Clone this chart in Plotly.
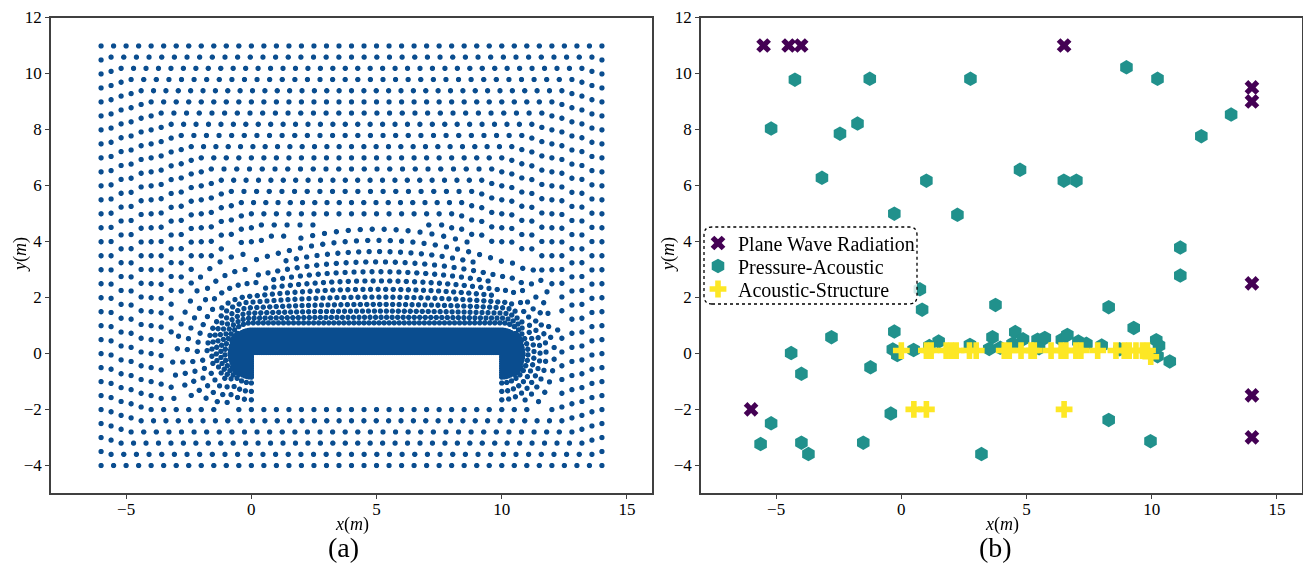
import numpy as np
import plotly.graph_objects as go

# ---------------- Panel (a): mesh description ----------------
DOMAIN_X = [-6.0, 14.0]          # outer boundary of the acoustic domain
DOMAIN_Y = [-4.0, 11.0]
OBST_X = [0.0, 10.0]             # structure (empty rectangle)
OBST_Y = [-2.0, 0.0]
RING_OFFSETS = [0.0, 0.4, 0.8, 1.2, 1.6, 2.0, 2.4, 2.8, 3.2, 3.6, 4.0, 4.4,
                4.8, 5.2, 5.6, 6.0, 6.4, 6.8, 7.2]
RING_SPACING = 0.5
# very fine layers hugging the top of the structure
DENSE_R = [0.04, 0.12, 0.20, 0.28, 0.36, 0.44, 0.52, 0.60, 0.68, 0.76, 0.84, 0.90]
DENSE_H = 0.09
# graded layers further out (top / left / right / bottom reach, node spacing, bow)
LAYER_T = [1.10, 1.30, 1.52, 1.76, 2.02, 2.30, 2.60, 2.93, 3.28, 3.65, 4.05, 4.45]
LAYER_L = [1.05, 1.22, 1.40, 1.58, 1.77, 1.96, 2.16, 2.36, 2.56, 2.76, 2.96, 3.16]
LAYER_R = [1.05, 1.17, 1.29, 1.41, 1.53, 1.65, 1.77, 1.89, 2.00, 2.10, 2.20, 2.30]
LAYER_B = [1.05, 1.20, 1.35, 1.50, 1.65, 1.80, 1.95, 2.10, 2.25, 2.40, 2.55, 2.70]
LAYER_H = [0.20, 0.22, 0.24, 0.26, 0.28, 0.30, 0.33, 0.36, 0.39, 0.42, 0.45, 0.48]
LAYER_BOW = [0.0, 0.03, 0.07, 0.12, 0.18, 0.25, 0.33, 0.42, 0.52, 0.63, 0.75, 0.88]
LAYER_CLIP_Y = -1.8

# ---------------- Panel (b): classified nodes ----------------
pw_x = [-5.5, -4.5, -4.0, 6.5, 14.0, 14.0, 14.0, 14.0, 14.0, -6.0]
pw_y = [11.0, 11.0, 11.0, 11.0, 9.5, 9.0, 2.5, -1.5, -3.0, -2.0]

pa_x = [-4.25, -1.26, 2.76, 8.99, 10.23, -5.2, -2.45, -1.75, 13.17, 11.98,
        -3.17, 1.0, 4.74, 6.49, 6.99, -0.28, 2.24, 11.14, 11.14,
        0.74, 0.83, 3.76, 8.28, 9.28, -2.79, -0.28, -4.4, -3.99, -1.23, 10.72,
        -0.42, 8.28, -5.2, -5.62, -3.99, -3.71, -1.52, 3.2, 9.95,
        -0.34, -0.16, 0.49, 1.12, 1.49, 2.74, 3.64, 3.51, 3.95, 4.55, 4.86, 4.44,
        5.44, 5.73, 5.5, 6.41, 6.63, 7.07, 7.39, 8.0, 8.72, 10.18, 10.29, 10.23]
pa_y = [9.78, 9.81, 9.81, 10.22, 9.81, 8.03, 7.85, 8.21, 8.53, 7.76,
        6.27, 6.17, 6.56, 6.17, 6.17, 4.99, 4.95, 3.78, 2.78,
        2.29, 1.56, 1.73, 1.65, 0.91, 0.58, 0.78, 0.01, -0.73, -0.5, -0.29,
        -2.15, -2.38, -2.5, -3.24, -3.19, -3.6, -3.19, -3.6, -3.14,
        0.14, -0.06, 0.12, 0.26, 0.42, 0.30, 0.58, 0.16, 0.20, 0.76, 0.50, 0.34,
        0.49, 0.55, 0.18, 0.49, 0.66, 0.42, 0.34, 0.28, 0.15, 0.47, 0.28, -0.10]

as_x = [0.0, 1.0, 1.19, 1.79, 1.99, 2.19, 2.72, 2.99, 4.11, 4.31, 4.78, 5.18, 5.31,
        5.98, 6.38, 6.57, 6.97, 7.17, 7.84, 8.57, 8.9, 9.1, 9.37, 9.63, 9.83, 9.96,
        0.5, 1.0, 6.5]
as_y = [0.1, 0.1, 0.1, 0.1, 0.1, 0.1, 0.1, 0.1, 0.1, 0.1, 0.1, 0.1, 0.1,
        0.1, 0.1, 0.1, 0.1, 0.1, 0.1, 0.1, 0.1, 0.1, 0.1, 0.1, 0.1, -0.12,
        -2.0, -2.0, -2.0]

X_TICKS = [-5, 0, 5, 10, 15]
Y_TICKS = [-4, -2, 0, 2, 4, 6, 8, 10, 12]

# ---------------- build mesh node cloud for panel (a) ----------------
def resample(path, h):
    seg = np.hypot(np.diff(path[:, 0]), np.diff(path[:, 1]))
    s = np.concatenate([[0], np.cumsum(seg)])
    n = max(int(round(s[-1] / h)), 1)
    t = np.linspace(0, s[-1], n + 1)
    return np.column_stack([np.interp(t, s, path[:, 0]), np.interp(t, s, path[:, 1])])

def layer_path(T, L, R, B, bow):
    x0, x1 = OBST_X
    t = np.linspace(0, np.pi / 2, 200)
    tend = T - bow
    xs = np.linspace(x0, x1, 400)
    mid = 0.5 * (x0 + x1)
    parts = [
        np.column_stack([x0 - L * np.sin(t), -B * np.cos(t)]),
        np.column_stack([x0 - L * np.cos(t), tend * np.sin(t)]),
        np.column_stack([xs, T - bow * ((xs - mid) / (mid - x0)) ** 2]),
        np.column_stack([x1 + R * np.sin(t), tend * np.cos(t)]),
        np.column_stack([x1 + R * np.cos(t), -B * np.sin(t)]),
    ]
    return np.vstack(parts)

def inside_obstacle(p):
    return (p[:, 0] > OBST_X[0] + 0.02) & (p[:, 0] < OBST_X[1] - 0.02) & \
           (p[:, 1] > OBST_Y[0] + 0.02) & (p[:, 1] < OBST_Y[1] - 0.02)

cands = []  # (points, min distance)
for r in DENSE_R:
    p = resample(layer_path(r, r, r, r, 0.0), DENSE_H)
    p = p[(p[:, 1] > LAYER_CLIP_Y) & ~inside_obstacle(p)]
    cands.append((p, 0.75 * DENSE_H))
for T, L, R, B, h, bw in zip(LAYER_T, LAYER_L, LAYER_R, LAYER_B, LAYER_H, LAYER_BOW):
    p = resample(layer_path(T, L, R, B, bw), h)
    p = p[(p[:, 1] > LAYER_CLIP_Y) & ~inside_obstacle(p)]
    cands.append((p, 0.72 * h))
for d in RING_OFFSETS:
    xa, xb = DOMAIN_X[0] + d, DOMAIN_X[1] - d
    ya, yb = DOMAIN_Y[0] + d, DOMAIN_Y[1] - d
    corners = [(xa, ya), (xb, ya), (xb, yb), (xa, yb), (xa, ya)]
    pts = []
    for (ax, ay), (bx, by) in zip(corners[:-1], corners[1:]):
        ln = np.hypot(bx - ax, by - ay)
        n = max(int(round(ln / RING_SPACING)), 1)
        f = np.arange(n) / n
        pts.append(np.column_stack([ax + (bx - ax) * f, ay + (by - ay) * f]))
    p = np.vstack(pts)
    p = p[~inside_obstacle(p)]
    cands.append((p, 0.62 * RING_SPACING))

cell = 0.5
grid = {}
acc = []
for p, md in cands:
    for x, y in p:
        ci, cj = int(np.floor(x / cell)), int(np.floor(y / cell))
        ok = True
        for di in (-1, 0, 1):
            for dj in (-1, 0, 1):
                for (qx, qy) in grid.get((ci + di, cj + dj), ()):
                    if (qx - x) ** 2 + (qy - y) ** 2 < md * md:
                        ok = False
                        break
                if not ok:
                    break
            if not ok:
                break
        if ok:
            acc.append((x, y))
            grid.setdefault((ci, cj), []).append((x, y))
mesh = np.array(acc)

# ---------------- figure ----------------
SERIF = "Liberation Serif, Times New Roman, serif"
W, H = 1303, 563
def px(x): return x / W
def py(y): return 1 - y / H

fig = go.Figure()
fig.add_trace(go.Scattergl(x=mesh[:, 0], y=mesh[:, 1], mode="markers", xaxis="x", yaxis="y",
                           marker=dict(size=5.5, color="#0a4d8f", line=dict(width=0)),
                           showlegend=False))
fig.add_trace(go.Scatter(x=pw_x, y=pw_y, mode="markers", xaxis="x2", yaxis="y2",
                         name="Plane Wave Radiation", legend="legend",
                         marker=dict(symbol="x", size=13, color="#440154", line=dict(width=0))))
fig.add_trace(go.Scatter(x=pa_x, y=pa_y, mode="markers", xaxis="x2", yaxis="y2",
                         name="Pressure-Acoustic", legend="legend2",
                         marker=dict(symbol="hexagon", size=14.5, color="#21918c", line=dict(width=0))))
fig.add_trace(go.Scatter(x=as_x, y=as_y, mode="markers", xaxis="x2", yaxis="y2",
                         name="Acoustic-Structure", legend="legend3",
                         marker=dict(symbol="cross", size=14, color="#fde725", line=dict(width=0))))

axis_common = dict(showgrid=False, zeroline=False, showline=True, linecolor="#404040", linewidth=1.5,
                   mirror=True, ticks="outside", ticklen=4, tickcolor="#404040", tickwidth=1,
                   automargin=False,
                   tickfont=dict(family=SERIF, size=17, color="black"))
ydom = [py(493.3), py(17.5)]
legend_common = dict(xanchor="left", yanchor="middle", bgcolor="rgba(0,0,0,0)", borderwidth=0,
                     font=dict(family=SERIF, size=20, color="black"))
title_font = dict(family=SERIF, size=18, color="black")
fig.update_layout(
    width=W, height=H, margin=dict(l=0, r=0, t=0, b=0, autoexpand=False),
    paper_bgcolor="white", plot_bgcolor="white",
    xaxis=dict(domain=[px(51), px(652)], range=[-8, 16], tickvals=X_TICKS, anchor="y",
               ticklabelstandoff=-4, **axis_common),
    yaxis=dict(domain=ydom, range=[-5, 12], tickvals=Y_TICKS, anchor="x", **axis_common),
    xaxis2=dict(domain=[px(701), px(1302)], range=[-8, 16], tickvals=X_TICKS, anchor="y2",
                ticklabelstandoff=-4, **axis_common),
    yaxis2=dict(domain=ydom, range=[-5, 12], tickvals=Y_TICKS, anchor="x2", **axis_common),
    legend=dict(x=px(698), y=py(243), **legend_common),
    legend2=dict(x=px(698), y=py(266), **legend_common),
    legend3=dict(x=px(698), y=py(289), **legend_common),
    annotations=[
        dict(text="<i>x</i>(<i>m</i>)", x=px(351.5), y=py(524), xref="paper", yref="paper",
             showarrow=False, xanchor="center", yanchor="middle", font=title_font),
        dict(text="<i>x</i>(<i>m</i>)", x=px(1001.5), y=py(524), xref="paper", yref="paper",
             showarrow=False, xanchor="center", yanchor="middle", font=title_font),
        dict(text="<i>y</i>(<i>m</i>)", x=px(20), y=py(255), xref="paper", yref="paper", textangle=-90,
             showarrow=False, xanchor="center", yanchor="middle", font=title_font),
        dict(text="<i>y</i>(<i>m</i>)", x=px(668), y=py(255), xref="paper", yref="paper", textangle=-90,
             showarrow=False, xanchor="center", yanchor="middle", font=title_font),
        dict(text="(a)", x=px(344), y=py(547), xref="paper", yref="paper", showarrow=False,
             xanchor="center", yanchor="middle", font=dict(family=SERIF, size=28, color="black")),
        dict(text="(b)", x=px(995), y=py(547), xref="paper", yref="paper", showarrow=False,
             xanchor="center", yanchor="middle", font=dict(family=SERIF, size=28, color="black")),
    ],
)
# rounded dotted legend frame
x0, x1, y0, y1 = px(704), px(917), py(304), py(227)
rx, ry = 8 / W, 8 / H
path = (f"M {x0+rx},{y0} L {x1-rx},{y0} Q {x1},{y0} {x1},{y0+ry} L {x1},{y1-ry} "
        f"Q {x1},{y1} {x1-rx},{y1} L {x0+rx},{y1} Q {x0},{y1} {x0},{y1-ry} "
        f"L {x0},{y0+ry} Q {x0},{y0} {x0+rx},{y0} Z")
fig.add_shape(type="path", path=path, xref="paper", yref="paper", layer="above",
              line=dict(color="black", width=1.3, dash="dot"), fillcolor="rgba(255,255,255,0.8)")

fig.write_html("out.html")
